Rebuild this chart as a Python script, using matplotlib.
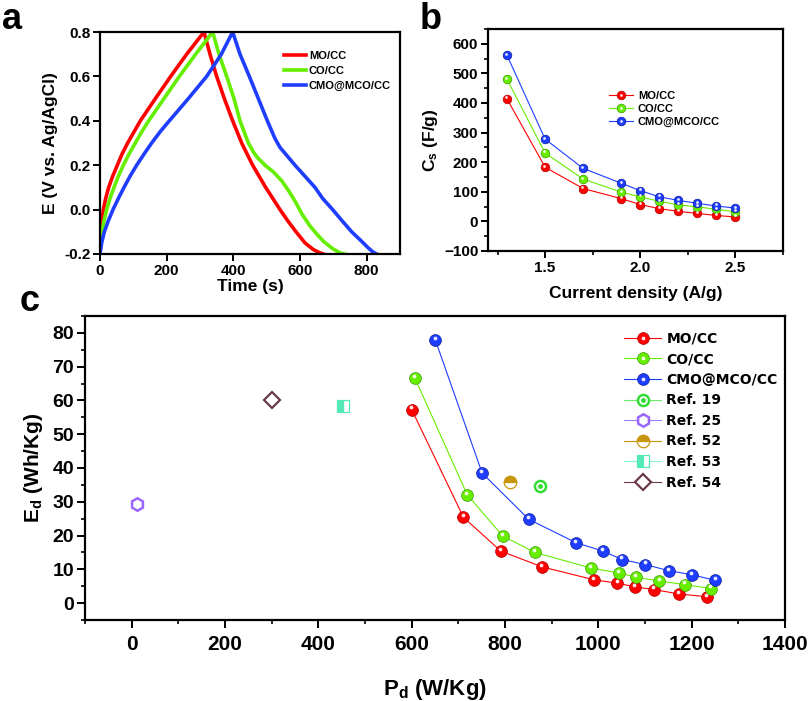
import matplotlib
matplotlib.use('Agg')
import matplotlib.pyplot as plt
from matplotlib.transforms import offset_copy
from matplotlib.legend_handler import HandlerTuple
from matplotlib.lines import Line2D
from matplotlib.ticker import MultipleLocator

plt.rcParams['font.family'] = ['Liberation Sans', 'DejaVu Sans']
plt.rcParams['font.weight'] = 'bold'
plt.rcParams['axes.labelweight'] = 'bold'
plt.rcParams['mathtext.default'] = 'regular'

# ---------------- Panel a: GCD curves ----------------
mo_t = [0, 1, 3, 6, 10, 17, 26, 38, 52, 66, 83, 102, 121, 166, 212, 260, 312,
        330, 350, 373, 398, 425, 458, 497, 540, 563, 588, 615, 640, 660, 670]
mo_E = [-0.2, -0.15, -0.1, -0.05, 0.0, 0.05, 0.1, 0.15, 0.2, 0.25, 0.3, 0.35, 0.4,
        0.5, 0.6, 0.7, 0.8,
        0.7, 0.6, 0.5, 0.4, 0.3, 0.2, 0.1, 0.0, -0.05, -0.1, -0.15, -0.18,
        -0.195, -0.2]
co_t = [0, 2, 6, 12, 20, 30, 42, 55, 70, 87, 106, 125, 146, 192, 238, 287, 338,
        357, 380, 402, 420, 445, 460, 472, 495, 520, 545, 568, 588, 606, 628,
        650, 672, 697, 720, 735]
co_E = [-0.2, -0.15, -0.1, -0.05, 0.0, 0.05, 0.1, 0.15, 0.2, 0.25, 0.3, 0.35, 0.4,
        0.5, 0.6, 0.7, 0.8,
        0.7, 0.6, 0.5, 0.4, 0.3, 0.26, 0.235, 0.2, 0.17, 0.13, 0.08, 0.03, -0.02,
        -0.07, -0.11, -0.145, -0.175, -0.195, -0.2]
cmo_t = [0, 5, 13, 25, 39, 55, 72, 90, 110, 132, 155, 180, 208, 265, 320, 364, 398,
         420, 448, 475, 502, 525, 540, 557, 585, 615, 645, 668, 698, 726, 755,
         783, 803, 818, 830]
cmo_E = [-0.2, -0.15, -0.1, -0.05, 0.0, 0.05, 0.1, 0.15, 0.2, 0.25, 0.3, 0.35, 0.4,
         0.5, 0.6, 0.7, 0.8,
         0.7, 0.6, 0.5, 0.4, 0.32, 0.28, 0.25, 0.2, 0.15, 0.1, 0.05, 0.0, -0.05,
         -0.1, -0.14, -0.17, -0.19, -0.2]

# ---------------- Panel b: specific capacitance ----------------
cd = [1.3, 1.5, 1.7, 1.9, 2.0, 2.1, 2.2, 2.3, 2.4, 2.5]
cs_mo = [414, 183, 111, 77, 57, 43, 34, 27, 20, 15]
cs_co = [480, 231, 143, 99, 83, 68, 56, 49, 41, 32]
cs_cmo = [561, 278, 179, 129, 104, 83, 71, 61, 52, 45]

# ---------------- Panel c: Ragone ----------------
pd_mo = [600, 711, 791, 880, 991, 1041, 1079, 1120, 1173, 1232]
ed_mo = [57.3, 25.4, 15.4, 10.7, 6.9, 5.9, 4.8, 4.0, 2.7, 1.9]
pd_co = [607, 719, 795, 864, 984, 1045, 1080, 1131, 1186, 1242]
ed_co = [66.6, 32.1, 19.9, 15.0, 10.4, 8.9, 7.7, 6.5, 5.5, 4.3]
pd_cmo = [651, 751, 851, 952, 1010, 1051, 1101, 1151, 1201, 1251]
ed_cmo = [77.8, 38.5, 24.8, 17.9, 15.4, 12.9, 11.4, 9.6, 8.4, 6.7]
ref_names = ['Ref. 19', 'Ref. 25', 'Ref. 52', 'Ref. 53', 'Ref. 54']
ref_pd = [876, 12, 810, 453, 300]
ref_ed = [34.8, 29.3, 35.8, 58.4, 60.1]

RED, GREEN, BLUE = '#ff0000', '#66ee00', '#1f3dff'
DRED, DGREEN, DBLUE = '#b00000', '#3a9a00', '#0a1aa0'

fig = plt.figure(figsize=(8.12, 7.01), dpi=100)
W, H = 812.0, 701.0


def box(l, t, r, b):
    return [l / W, 1 - b / H, (r - l) / W, (b - t) / H]


def style(ax, lsize):
    for s in ax.spines.values():
        s.set_linewidth(1.6)
    ax.tick_params(which='major', direction='out', width=1.4, length=5,
                   labelsize=lsize, pad=2)
    ax.tick_params(which='minor', direction='out', width=1.2, length=3)
    for lab in ax.get_xticklabels() + ax.get_yticklabels():
        lab.set_fontweight('bold')


def balls(ax, x, y, color, dark, ms, lw=0.8):
    ln, = ax.plot(x, y, '-', color=color, lw=lw, marker='o', ms=ms,
                  mfc=color, mec=dark, mew=0.5, zorder=3)
    tr = offset_copy(ax.transData, fig=fig, x=-ms * 0.08, y=ms * 0.18, units='points')
    ax.plot(x, y, ls='none', marker='o', ms=ms * 0.32, mfc='white', mec='none',
            alpha=0.9, transform=tr, zorder=4)
    hl = Line2D([], [], ls='none', marker='o', ms=ms * 0.32, mfc='white',
                mec='none', alpha=0.9)
    return (ln, hl)


# ---- Panel a ----
axa = fig.add_axes(box(100, 32, 400, 254))
axa.plot(mo_t, mo_E, color=RED, lw=2.6, label='MO/CC')
axa.plot(co_t, co_E, color=GREEN, lw=2.6, label='CO/CC')
axa.plot(cmo_t, cmo_E, color=BLUE, lw=2.6, label='CMO@MCO/CC')
axa.set_xlim(0, 900)
axa.set_ylim(-0.2, 0.8)
axa.set_xticks([0, 200, 400, 600, 800])
axa.set_yticks([-0.2, 0.0, 0.2, 0.4, 0.6, 0.8])
axa.set_yticklabels(['-0.2', '0.0', '0.2', '0.4', '0.6', '0.8'])
style(axa, 11)
axa.set_xlabel('Time (s)', fontsize=12.5, labelpad=1)
axa.set_ylabel('E (V vs. Ag/AgCl)', fontsize=12.5, labelpad=4)
axa.legend(loc='upper left', bbox_to_anchor=(0.615, 0.913), frameon=False,
           prop={'size': 8, 'weight': 'bold'}, handlelength=1.9,
           handletextpad=0.3, labelspacing=0.45, borderpad=0, borderaxespad=0)

# ---- Panel b ----
axb = fig.add_axes(box(488, 29, 783, 251))
hb = [balls(axb, cd, cs_mo, RED, DRED, 6.2),
      balls(axb, cd, cs_co, GREEN, DGREEN, 6.2),
      balls(axb, cd, cs_cmo, BLUE, DBLUE, 6.2)]
axb.set_xlim(1.2, 2.75)
axb.set_ylim(-100, 650)
axb.set_xticks([1.5, 2.0, 2.5])
axb.xaxis.set_minor_locator(MultipleLocator(0.25))
axb.set_yticks(range(-100, 601, 100))
axb.yaxis.set_minor_locator(MultipleLocator(50))
style(axb, 11)
axb.set_xlabel('Current density (A/g)', fontsize=12.5, labelpad=8)
axb.set_ylabel('C$_\\mathregular{s}$ (F/g)', fontsize=12.5, labelpad=3)
axb.legend(hb, ['MO/CC', 'CO/CC', 'CMO@MCO/CC'],
           handler_map={tuple: HandlerTuple(ndivide=1)},
           loc='upper left', bbox_to_anchor=(0.41, 0.72), frameon=False,
           prop={'size': 8, 'weight': 'bold'}, handlelength=2.2,
           handletextpad=0.4, labelspacing=0.25, borderpad=0, borderaxespad=0)

# ---- Panel c ----
axc = fig.add_axes(box(85, 316, 785, 620))
hc = [balls(axc, pd_mo, ed_mo, RED, DRED, 8.5),
      balls(axc, pd_co, ed_co, GREEN, DGREEN, 8.5),
      balls(axc, pd_cmo, ed_cmo, BLUE, DBLUE, 8.5)]
r19, = axc.plot([ref_pd[0]], [ref_ed[0]], '-', color='#66ee66', lw=0.8, marker='o',
                ms=8, mfc='white', mec='#33dd33', mew=1.8)
r19d = axc.plot([ref_pd[0]], [ref_ed[0]], ls='none', marker='o', ms=2.5,
                mfc='#33dd33', mec='#33dd33')[0]
r25, = axc.plot([ref_pd[1]], [ref_ed[1]], '-', color='#a07cff', lw=0.8, marker='h',
                ms=9, mfc='white', mec='#9966ff', mew=1.8)
r52, = axc.plot([ref_pd[2]], [ref_ed[2]], '-', color='#c8960c', lw=0.8, marker='o',
                ms=9, fillstyle='top', mfc='#c8960c', mfcalt='white',
                mec='#c8960c', mew=0.9)
r53, = axc.plot([ref_pd[3]], [ref_ed[3]], '-', color='#7ff5d0', lw=0.8, marker='s',
                ms=8, fillstyle='left', mfc='#55e8b8', mfcalt='white',
                mec='#55e8b8', mew=0.9)
r54, = axc.plot([ref_pd[4]], [ref_ed[4]], '-', color='#6b3a48', lw=0.8, marker='D',
                ms=8.5, mfc='white', mec='#6b3a48', mew=1.6)
axc.set_xlim(-100, 1400)
axc.set_ylim(-5, 85)
axc.set_xticks(range(0, 1401, 200))
axc.xaxis.set_minor_locator(MultipleLocator(100))
axc.set_yticks(range(0, 81, 10))
axc.yaxis.set_minor_locator(MultipleLocator(5))
style(axc, 14)
axc.tick_params(axis='x', labelsize=15, pad=5)
axc.tick_params(which='major', length=6)
axc.set_xlabel('P$_\\mathregular{d}$ (W/Kg)', fontsize=16, labelpad=16)
axc.set_ylabel('E$_\\mathregular{d}$ (Wh/Kg)', fontsize=15, labelpad=5)
handles = hc + [(r19, r19d), r25, r52, r53, r54]
labels = ['MO/CC', 'CO/CC', 'CMO@MCO/CC'] + ref_names
axc.legend(handles, labels, handler_map={tuple: HandlerTuple(ndivide=1)},
           loc='upper left', bbox_to_anchor=(0.770, 0.948), frameon=False,
           prop={'family': 'DejaVu Sans', 'size': 10, 'weight': 'bold'},
           handlelength=2.7, handletextpad=0.35, labelspacing=0.47,
           borderpad=0, borderaxespad=0)

# panel letters
fig.text(2 / W, 1 - 2 / H, 'a', fontsize=26, fontweight='bold', va='top', ha='left')
fig.text(420 / W, 1 - 2 / H, 'b', fontsize=26, fontweight='bold', va='top', ha='left')
fig.text(20 / W, 1 - 284 / H, 'c', fontsize=26, fontweight='bold', va='top', ha='left')

fig.savefig('out.png', dpi=100)
